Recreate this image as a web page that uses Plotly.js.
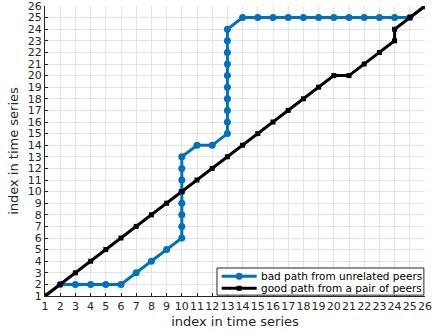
<!DOCTYPE html>
<html>
<head>
<meta charset="utf-8">
<script src="https://cdn.plot.ly/plotly-3.0.1.min.js"></script>
<style>html,body{margin:0;padding:0;background:#fff;}#chart{width:432px;height:335px;}</style>
</head>
<body>
<div id="chart"></div>
<script>
const badX = [1,2,3,4,5,6,7,8,9,10,10,10,10,10,10,10,10,11,12,13,13,13,13,13,13,13,13,13,13,14,15,16,17,18,19,20,21,22,23,24,25,26];
const badY = [1,2,2,2,2,2,3,4,5,6,7,8,9,10,11,12,13,14,14,15,16,17,18,19,20,21,22,23,24,25,25,25,25,25,25,25,25,25,25,25,25,26];
const goodX = [1,2,3,4,5,6,7,8,9,10,11,12,13,14,15,16,17,18,19,20,21,22,23,24,24,25,26];
const goodY = [1,2,3,4,5,6,7,8,9,10,11,12,13,14,15,16,17,18,19,20,20,21,22,23,24,25,26];
const tickVals = [1,2,3,4,5,6,7,8,9,10,11,12,13,14,15,16,17,18,19,20,21,22,23,24,25,26];
const seriesNames = ['bad path from unrelated peers', 'good path from a pair of peers'];
const seriesColors = ['#0072BD', '#000000'];
const axisTitle = 'index in time series';

const traces = [
  {x: badX, y: badY, name: seriesNames[0], type: 'scatter', mode: 'lines+markers', showlegend: false,
   line: {color: seriesColors[0], width: 3}, marker: {color: seriesColors[0], size: 7, symbol: 'circle'}},
  {x: goodX, y: goodY, name: seriesNames[1], type: 'scatter', mode: 'lines+markers', showlegend: false,
   line: {color: seriesColors[1], width: 3}, marker: {color: seriesColors[1], size: 5, symbol: 'square'}}
];

const axisCommon = {
  tickmode: 'array', tickvals: tickVals, ticktext: tickVals.map(String),
  showgrid: true, gridcolor: '#e3e3e3', gridwidth: 1,
  zeroline: false, showline: true, linecolor: '#262626', linewidth: 1,
  ticks: 'inside', ticklen: 3, tickcolor: '#262626',
  tickfont: {family: 'DejaVu Sans', size: 11, color: '#262626'},
  tickangle: 0, range: [1, 26], fixedrange: true
};

// manual compact legend (MATLAB style)
const legBox = {x0: 0.4526, x1: 0.997, y0: 0.003, y1: 0.0966};
const rowY = [0.068, 0.0266];
const sampleX = [0.465, 0.557];
const markerX = (sampleX[0] + sampleX[1]) / 2;
const textX = 0.562;
const shapes = [
  {type: 'rect', xref: 'paper', yref: 'paper', x0: legBox.x0, x1: legBox.x1, y0: legBox.y0, y1: legBox.y1,
   fillcolor: '#ffffff', line: {color: '#262626', width: 1}, layer: 'above'}
];
const annotations = [];
seriesNames.forEach((nm, i) => {
  shapes.push({type: 'line', xref: 'paper', yref: 'paper', x0: sampleX[0], x1: sampleX[1], y0: rowY[i], y1: rowY[i],
    line: {color: seriesColors[i], width: 3}, layer: 'above'});
  const r = i === 0 ? 3.5 : 2.5;
  shapes.push({type: i === 0 ? 'circle' : 'rect', xref: 'paper', yref: 'paper',
    xsizemode: 'pixel', ysizemode: 'pixel', xanchor: markerX, yanchor: rowY[i],
    x0: -r, x1: r, y0: -r, y1: r, fillcolor: seriesColors[i], line: {color: seriesColors[i], width: 0}, layer: 'above'});
  annotations.push({xref: 'paper', yref: 'paper', x: textX, y: rowY[i], xanchor: 'left', yanchor: 'middle',
    text: nm, showarrow: false, font: {family: 'DejaVu Sans', size: 10.5, color: '#000'}});
});

const layout = {
  width: 432, height: 335,
  margin: {l: 45, r: 7, t: 6, b: 39},
  paper_bgcolor: '#fff', plot_bgcolor: '#fff',
  showlegend: false,
  xaxis: Object.assign({}, axisCommon, {
    title: {text: axisTitle, font: {family: 'DejaVu Sans', size: 13, color: '#262626'}, standoff: 4}
  }),
  yaxis: Object.assign({}, axisCommon, {
    title: {text: axisTitle, font: {family: 'DejaVu Sans', size: 13, color: '#262626'}, standoff: 6}
  }),
  shapes: shapes,
  annotations: annotations
};

Plotly.newPlot('chart', traces, layout, {displayModeBar: false, staticPlot: true});
</script>
</body>
</html>
